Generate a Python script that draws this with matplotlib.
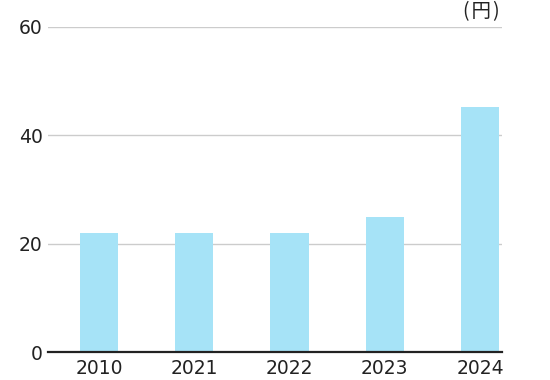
import matplotlib
matplotlib.use("Agg")
import matplotlib.pyplot as plt

# data
years = ["2010", "2021", "2022", "2023", "2024"]
values = [22, 22, 22, 25, 45.3]
yticks = [0, 20, 40, 60]
unit_label = "(\u200a円\u200a)"

bar_color = "#a6e3f7"

fig = plt.figure(figsize=(5.5, 3.8), dpi=100)
ax = fig.add_axes([48 / 550, 1 - 352 / 380, (502 - 48) / 550, (352 - 27) / 380])

x = range(len(years))
ax.bar(x, values, width=0.4, color=bar_color, zorder=2)

ax.set_ylim(0, 60)
ax.set_xlim(-0.535, 4.23)
ax.set_yticks(yticks)
ax.set_xticks(list(x))
ax.set_xticklabels(years)
ax.grid(axis="y", color="#cccccc", linewidth=1, zorder=0)
ax.tick_params(axis="both", length=0, labelsize=13.5, colors="#222222")
ax.tick_params(axis="y", pad=4)
ax.tick_params(axis="x", pad=5)

for s in ["left", "right", "top"]:
    ax.spines[s].set_visible(False)
ax.spines["bottom"].set_color("#222222")
ax.spines["bottom"].set_linewidth(1.6)
ax.spines["bottom"].set_zorder(3)

fig.text(500 / 550, 1 - 12 / 380, unit_label, ha="right", va="center",
         fontsize=14, family=["Noto Sans CJK JP", "DejaVu Sans"], color="#222222")

fig.savefig("out.png", dpi=100)
